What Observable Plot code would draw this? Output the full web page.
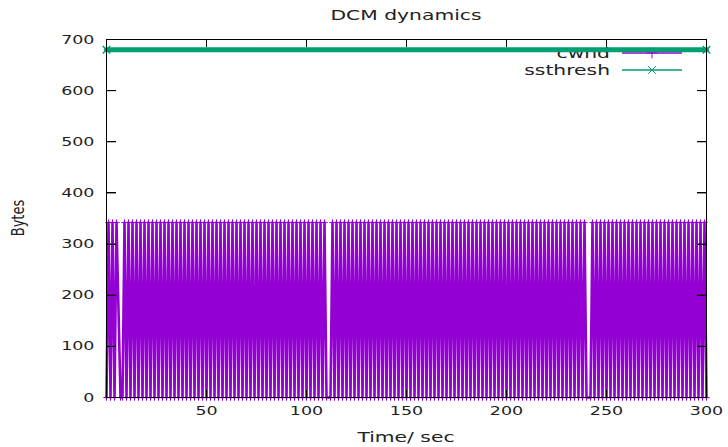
<!DOCTYPE html>
<html><head><meta charset="utf-8">
<script src="https://cdn.jsdelivr.net/npm/d3@7"></script>
<script src="https://cdn.jsdelivr.net/npm/@observablehq/plot@0.6"></script>
<style>
html,body{margin:0;padding:0;background:#fff;}
#chart svg{font-family:"DejaVu Sans";font-size:12.5px;}
</style></head><body><div id="chart"></div>
<script>
// ---- data ----
const cwndT = [
0,1,2,3,4,5,7,8,9,
10,11,12,13,14,15,16,17,18,19,
20,21,22,23,24,25,26,27,28,29,
30,31,32,33,34,35,36,37,38,39,
40,41,42,43,44,45,46,47,48,49,
50,51,52,53,54,55,56,57,58,59,
60,61,62,63,64,65,66,67,68,69,
70,71,72,73,74,75,76,77,78,79,
80,81,82,83,84,85,86,87,88,89,
90,91,92,93,94,95,96,97,98,99,
100,101,102,103,104,105,106,107,108,109,
110,112,113,114,115,116,117,118,119,
120,121,122,123,124,125,126,127,128,129,
130,131,132,133,134,135,136,137,138,139,
140,141,142,143,144,145,146,147,148,149,
150,151,152,153,154,155,156,157,158,159,
160,161,162,163,164,165,166,167,168,169,
170,171,172,173,174,175,176,177,178,179,
180,181,182,183,184,185,186,187,188,189,
190,191,192,193,194,195,196,197,198,199,
200,201,202,203,204,205,206,207,208,209,
210,211,212,213,214,215,216,217,218,219,
220,221,222,223,224,225,226,227,228,229,
230,231,232,233,234,235,236,237,238,239,
240,242,243,244,245,246,247,248,249,
250,251,252,253,254,255,256,257,258,259,
260,261,262,263,264,265,266,267,268,269,
270,271,272,273,274,275,276,277,278,279,
280,281,282,283,284,285,286,287,288,289,
290,291,292,293,294,295,296,297,298,299,
300
];
const cwndV = [
0,342,0,342,0,342,0,0,342,
0,342,0,342,0,342,0,342,0,342,
0,342,0,342,0,342,0,342,0,342,
0,342,0,342,0,342,0,342,0,342,
0,342,0,342,0,342,0,342,0,342,
0,342,0,342,0,342,0,342,0,342,
0,342,0,342,0,342,0,342,0,342,
0,342,0,342,0,342,0,342,0,342,
0,342,0,342,0,342,0,342,0,342,
0,342,0,342,0,342,0,342,0,342,
0,342,0,342,0,342,0,342,0,342,
0,0,342,0,342,0,342,0,342,
0,342,0,342,0,342,0,342,0,342,
0,342,0,342,0,342,0,342,0,342,
0,342,0,342,0,342,0,342,0,342,
0,342,0,342,0,342,0,342,0,342,
0,342,0,342,0,342,0,342,0,342,
0,342,0,342,0,342,0,342,0,342,
0,342,0,342,0,342,0,342,0,342,
0,342,0,342,0,342,0,342,0,342,
0,342,0,342,0,342,0,342,0,342,
0,342,0,342,0,342,0,342,0,342,
0,342,0,342,0,342,0,342,0,342,
0,342,0,342,0,342,0,342,0,342,
0,0,342,0,342,0,342,0,342,
0,342,0,342,0,342,0,342,0,342,
0,342,0,342,0,342,0,342,0,342,
0,342,0,342,0,342,0,342,0,342,
0,342,0,342,0,342,0,342,0,342,
0,342,0,342,0,342,0,342,0,342,
0
];
const ssthreshT = [0, 300];
const ssthreshV = [680, 680];
const xTicks = [50, 100, 150, 200, 250, 300];
const yTicks = [0, 100, 200, 300, 400, 500, 600, 700];
const seriesNames = ["cwnd", "ssthresh"];
const titleText = "DCM dynamics";
const xLabel = "Time/ sec";
const yLabel = "Bytes";

// ---- styling ----
const PURPLE = "#9400d3", GREEN = "#009e73";
const W = 728, H = 447, ML = 106, MR = 22, MT = 39, MB = 50;
const SX = 1.4; // horizontal stretch of the original raster text
const xDomain = [0, 300], yDomain = [0, 700];

const cwnd = cwndT.map((t, i) => ({t, v: cwndV[i]}));
const ss = ssthreshT.map((t, i) => ({t, v: ssthreshV[i]}));
const blank = () => "";

const plot = Plot.plot({
  width: W, height: H,
  marginLeft: ML, marginRight: MR, marginTop: MT, marginBottom: MB,
  x: {domain: xDomain, axis: null},
  y: {domain: yDomain, axis: null},
  marks: [
    Plot.line(cwnd, {x: "t", y: "v", stroke: PURPLE, strokeWidth: 2.6}),
    Plot.dot(cwnd, {x: "t", y: "v", symbol: "plus", r: 2.2, stroke: PURPLE, strokeWidth: 1}),
    Plot.line(ss, {x: "t", y: "v", stroke: GREEN, strokeWidth: 5}),
    Plot.dot(ss, {x: "t", y: "v", symbol: "times", r: 3.5, stroke: GREEN, strokeWidth: 1.5}),
    Plot.frame({stroke: "black", strokeWidth: 1}),
    Plot.axisX(xTicks, {anchor: "bottom", tickSize: -7, tickFormat: blank, label: null, stroke: "black"}),
    Plot.axisX(xTicks, {anchor: "top", tickSize: -7, tickFormat: blank, label: null, stroke: "black"}),
    Plot.axisY(yTicks, {anchor: "left", tickSize: -10, tickFormat: blank, label: null, stroke: "black"}),
    Plot.axisY(yTicks, {anchor: "right", tickSize: -10, tickFormat: blank, label: null, stroke: "black"}),
    Plot.axisX(xTicks, {anchor: "bottom", tickSize: 0, tickPadding: 9, label: null, fill: "#222"}),
    Plot.axisY(yTicks, {anchor: "left", tickSize: 0, tickPadding: 12, label: null, fill: "#222"})
  ]
});
document.getElementById("chart").appendChild(plot);

const svg = d3.select(plot);
// stretch tick labels horizontally like the reference raster
svg.selectAll("text").each(function () {
  const x = parseFloat(this.getAttribute("x")) || 0;
  const t = this.getAttribute("transform") || "";
  this.removeAttribute("x");
  this.setAttribute("transform", `${t} translate(${x},0) scale(${SX},1)`);
});

// border + mirrored ticks as filled 1px bars, positioned through the plot's own scales
const xs = plot.scale("x"), ys = plot.scale("y");
const X = (v) => Math.round(xs.apply(v)), Y = (v) => Math.round(ys.apply(v));
const bx0 = X(xDomain[0]), bx1 = X(xDomain[1]), by0 = Y(yDomain[0]), by1 = Y(yDomain[1]);
const bd = svg.append("g").attr("fill", "#000").attr("stroke", "none");
const bar = (x, y, w, h) => bd.append("rect").attr("x", x).attr("y", y).attr("width", w).attr("height", h);
bar(bx0, by1, 1, by0 - by1 + 1);          // left
bar(bx1, by1, 1, by0 - by1 + 1);          // right
bar(bx0, by1, bx1 - bx0 + 1, 1);          // top
bar(bx0, by0, bx1 - bx0 + 1, 1);          // bottom
xTicks.forEach((v) => {
  bar(X(v), by0 - 7, 1, 7);
  bar(X(v), by1, 1, 7);
});
yTicks.forEach((v) => {
  bar(bx0, Y(v), 10, 1);
  bar(bx1 - 9, Y(v), 10, 1);
});

const cx = (bx0 + bx1) / 2;
const LF = "14.5px";
svg.append("text").text(titleText)
  .attr("transform", `translate(${cx},20) scale(${SX},1)`)
  .attr("text-anchor", "middle").style("font-size", LF).attr("fill", "#222");
svg.append("text").text(xLabel)
  .attr("transform", `translate(${cx},442) scale(${SX},1)`)
  .attr("text-anchor", "middle").style("font-size", LF).attr("fill", "#222");
svg.append("text").text(yLabel)
  .attr("transform", `translate(24,218) rotate(-90) scale(1,${SX})`)
  .attr("text-anchor", "middle").style("font-size", "13px").attr("fill", "#222");

// legend, drawn beneath the data lines (the ssthresh band covers part of it)
const lg = svg.insert("g", "g");
const colors = [PURPLE, GREEN];
const symbols = [d3.symbolPlus, d3.symbolTimes];
seriesNames.forEach((name, i) => {
  const yy = 53 + i * 17;
  lg.append("text").text(name)
    .attr("transform", `translate(610,${yy + 5}) scale(${SX},1)`)
    .attr("text-anchor", "end").style("font-size", LF).attr("fill", "#222");
  lg.append("line").attr("x1", 622).attr("x2", 682).attr("y1", yy).attr("y2", yy)
    .attr("stroke", colors[i]).attr("stroke-width", 1.3);
  lg.append("path").attr("d", d3.symbol(symbols[i], 40)())
    .attr("transform", `translate(652,${yy})`).attr("fill", "none").attr("stroke", colors[i]).attr("stroke-width", 1);
});
</script></body></html>
